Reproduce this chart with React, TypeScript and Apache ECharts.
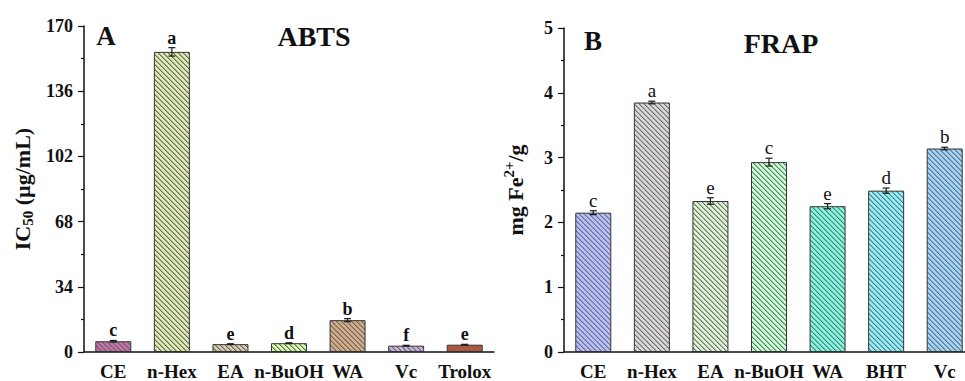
import React, { useEffect, useRef } from "react";
import * as echarts from "echarts";

const catsA = ["CE", "n-Hex", "EA", "n-BuOH", "WA", "Vc", "Trolox"];
const valsA = [5.6, 156.5, 4.1, 4.6, 16.6, 3.3, 3.8];
const errA = [0.4, 2.2, 0.2, 0.2, 0.8, 0.2, 0.2];
const lettersA = ["c", "a", "e", "d", "b", "f", "e"];
const colorsA = ["#e45fb6", "#f9dcb5", "#f4bcb8", "#f2f0b0", "#f39b8e", "#e8a2ec", "#e8423c"];
const ticksA = [0, 34, 68, 102, 136, 170];

const catsB = ["CE", "n-Hex", "EA", "n-BuOH", "WA", "BHT", "Vc"];
const valsB = [2.15, 3.85, 2.33, 2.93, 2.25, 2.49, 3.14];
const errB = [0.03, 0.02, 0.05, 0.06, 0.04, 0.04, 0.02];
const lettersB = ["c", "a", "e", "c", "e", "d", "b"];
const colorsB = ["#d6b0f7", "#f8c9c9", "#fbe6c3", "#dff7c4", "#95efd5", "#a6e6f4", "#b9c8f2"];
const ticksB = [0, 1, 2, 3, 4, 5];

const FONT = "'Liberation Serif', 'Times New Roman', serif";

function hexToRgb(h: string) {
  const v = parseInt(h.slice(1), 16);
  return [(v >> 16) & 255, (v >> 8) & 255, v & 255];
}

function makePattern(bg: string, fg: string) {
  const n = 5;
  const c = document.createElement("canvas");
  c.width = n;
  c.height = n;
  const ctx = c.getContext("2d")!;
  const b = hexToRgb(bg);
  const f = hexToRgb(fg);
  const mix = (t: number) =>
    `rgb(${Math.round(b[0] * (1 - t) + f[0] * t)},${Math.round(b[1] * (1 - t) + f[1] * t)},${Math.round(
      b[2] * (1 - t) + f[2] * t
    )})`;
  ctx.fillStyle = bg;
  ctx.fillRect(0, 0, n, n);
  for (let y = 0; y < n; y++) {
    for (let x = 0; x < n; x++) {
      const d = (((x - y) % n) + n) % n;
      if (d === 0) {
        ctx.fillStyle = mix(1);
        ctx.fillRect(x, y, 1, 1);
      } else if (d === 1) {
        ctx.fillStyle = mix(0.45);
        ctx.fillRect(x, y, 1, 1);
      }
    }
  }
  return { image: c, repeat: "repeat" };
}

export default function App() {
  const ref = useRef<HTMLDivElement>(null);
  useEffect(() => {
    if (!ref.current) return;
    const chart = echarts.init(ref.current, undefined, { renderer: "svg" });

    const barData = (vals: number[], colors: string[], hatch: string) =>
      vals.map((v, i) => ({
        value: v,
        itemStyle: { color: makePattern(colors[i], hatch) as any },
      }));

    const errSeries = (
      xi: number,
      yi: number,
      vals: number[],
      errs: number[],
      letters: string[],
      bold: boolean,
      fs: number
    ) => ({
      type: "custom",
      xAxisIndex: xi,
      yAxisIndex: yi,
      z: 5,
      data: vals.map((v, i) => [i, v, errs[i]]),
      renderItem: (params: any, api: any) => {
        const i = api.value(0);
        const v = api.value(1);
        const e = api.value(2);
        const top = api.coord([i, v + e]);
        const bot = api.coord([i, v - e]);
        const x = top[0];
        const st = { stroke: "#1a1a1a", lineWidth: 1.2 };
        return {
          type: "group",
          children: [
            { type: "line", shape: { x1: x, y1: top[1], x2: x, y2: bot[1] }, style: st },
            { type: "line", shape: { x1: x - 3.5, y1: top[1], x2: x + 3.5, y2: top[1] }, style: st },
            { type: "line", shape: { x1: x - 3.5, y1: bot[1], x2: x + 3.5, y2: bot[1] }, style: st },
            {
              type: "text",
              x: x,
              y: top[1] - 1,
              style: {
                text: letters[params.dataIndex],
                textAlign: "center",
                textVerticalAlign: "bottom",
                fontFamily: FONT,
                fontSize: fs,
                fontWeight: bold ? "bold" : "normal",
                fill: "#111",
              },
            },
          ],
        };
      },
    });

    const xAxisCommon = (gi: number, cats: string[]) => [
      {
        type: "category",
        gridIndex: gi,
        data: cats,
        position: "bottom",
        axisLine: { lineStyle: { color: "#111", width: 1.5 } },
        axisTick: { alignWithLabel: true, length: 6, lineStyle: { color: "#111", width: 1.2 } },
        axisLabel: {
          interval: 0,
          margin: 10,
          color: "#111",
          fontFamily: FONT,
          fontWeight: "bold",
          fontSize: 19,
        },
      },
      {
        type: "category",
        gridIndex: gi,
        data: cats,
        position: "bottom",
        axisLine: { show: false },
        axisTick: { alignWithLabel: false, length: 3, lineStyle: { color: "#111", width: 1.2 } },
        axisLabel: { show: false },
      },
    ];

    const yAxisCommon = (gi: number, max: number, interval: number, name: string, nameGap: number, rich: any) => ({
      type: "value",
      gridIndex: gi,
      min: 0,
      max,
      interval,
      name,
      nameLocation: "middle",
      nameGap,
      nameRotate: 90,
      nameTextStyle: { rich, color: "#111" },
      splitLine: { show: false },
      axisLine: { show: true, lineStyle: { color: "#111", width: 1.5 } },
      axisTick: { show: true, length: 6, lineStyle: { color: "#111", width: 1.2 } },
      minorTick: { show: true, splitNumber: 2, length: 3, lineStyle: { color: "#111", width: 1.2 } },
      axisLabel: {
        margin: 11,
        color: "#111",
        fontFamily: FONT,
        fontWeight: "bold",
        fontSize: 18,
      },
    });

    const xa = [...xAxisCommon(0, catsA), ...xAxisCommon(1, catsB)];

    chart.setOption({
      animation: false,
      backgroundColor: "#ffffff",
      grid: [
        { left: 84, top: 26, width: 410, height: 331 },
        { left: 564, top: 28, width: 410, height: 329 },
      ],
      xAxis: xa,
      yAxis: [
        yAxisCommon(0, ticksA[ticksA.length - 1], ticksA[1] - ticksA[0], "{a|IC}{s|50}{a| (µg/mL)}", 49, {
          a: { fontFamily: FONT, fontWeight: "bold", fontSize: 22, color: "#111" },
          s: { fontFamily: FONT, fontWeight: "bold", fontSize: 15, color: "#111", padding: [10, 0, 0, 0] },
        }),
        yAxisCommon(1, ticksB[ticksB.length - 1], ticksB[1] - ticksB[0], "{a|mg Fe}{p|2+}{a|/g}", 34, {
          a: { fontFamily: FONT, fontWeight: "bold", fontSize: 22, color: "#111" },
          p: { fontFamily: FONT, fontWeight: "bold", fontSize: 15, color: "#111", padding: [0, 0, 14, 0] },
        }),
      ],
      graphic: [
        { type: "text", x: 106, y: 36, style: { text: "A", textAlign: "center", textVerticalAlign: "middle", fontFamily: FONT, fontWeight: "bold", fontSize: 27, fill: "#111" } },
        { type: "text", x: 314, y: 36, style: { text: "ABTS", textAlign: "center", textVerticalAlign: "middle", fontFamily: FONT, fontWeight: "bold", fontSize: 28, fill: "#111" } },
        { type: "text", x: 593, y: 41, style: { text: "B", textAlign: "center", textVerticalAlign: "middle", fontFamily: FONT, fontWeight: "bold", fontSize: 27, fill: "#111" } },
        { type: "text", x: 781, y: 43, style: { text: "FRAP", textAlign: "center", textVerticalAlign: "middle", fontFamily: FONT, fontWeight: "bold", fontSize: 28, fill: "#111" } },
      ],
      series: [
        {
          type: "bar",
          xAxisIndex: 0,
          yAxisIndex: 0,
          barWidth: 36,
          data: barData(valsA, colorsA, "#1f8f4e"),
          itemStyle: { borderColor: "#333", borderWidth: 1 },
        },
        errSeries(0, 0, valsA, errA, lettersA, true, 18),
        {
          type: "bar",
          xAxisIndex: 2,
          yAxisIndex: 1,
          barWidth: 36,
          data: barData(valsB, colorsB, "#22918f"),
          itemStyle: { borderColor: "#333", borderWidth: 1 },
        },
        errSeries(2, 1, valsB, errB, lettersB, false, 19),
      ],
    });
    return () => chart.dispose();
  }, []);
  return (
    <div style={{ position: "fixed", left: 0, top: 0, width: 965, height: 381, overflow: "hidden", background: "#fff" }}>
      <div ref={ref} style={{ width: 980, height: 381 }} />
    </div>
  );
}
